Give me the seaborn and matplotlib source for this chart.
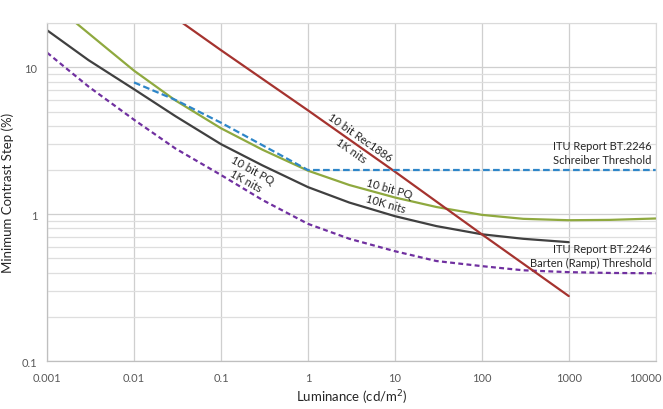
import numpy as np
import pandas as pd
import matplotlib
matplotlib.use("Agg")
import matplotlib.pyplot as plt
import matplotlib.transforms as mtrans
from matplotlib.ticker import LogLocator, FixedLocator, NullFormatter
import seaborn as sns

# values (luminance in cd/m2, contrast step in %)
lum_barten = [0.001, 0.003, 0.01, 0.03, 0.1, 0.3, 1, 3, 10, 30, 100, 300, 1000, 3000, 10000]
barten = [12.6, 7.4, 4.4, 2.8, 1.85, 1.25, 0.86, 0.68, 0.56, 0.48, 0.443, 0.415, 0.403, 0.398, 0.396]

lum_pq1k = [0.001, 0.003, 0.01, 0.03, 0.1, 0.3, 1, 3, 10, 30, 100, 300, 1000]
pq1k = [17.9, 11.2, 7.1, 4.65, 3.0, 2.15, 1.53, 1.2, 0.97, 0.83, 0.73, 0.68, 0.645]

lum_pq10k = [0.001, 0.002, 0.005, 0.01, 0.03, 0.1, 0.3, 1, 3, 10, 30, 100, 300, 1000, 3000, 10000]
pq10k = [29, 20.8, 13.3, 9.5, 5.95, 3.85, 2.75, 1.98, 1.58, 1.3, 1.12, 0.99, 0.93, 0.91, 0.915, 0.935]

lum_rec = [0.03, 0.1, 1, 10, 100, 1000]
rec1886 = [21.7, 13.1, 5.1, 1.95, 0.73, 0.277]

lum_schr = [0.01, 0.03, 0.1, 0.3, 1, 10000]
schreiber = [7.9, 6.0, 4.2, 2.95, 2.0, 2.0]

xticks = [0.001, 0.01, 0.1, 1, 10, 100, 1000, 10000]
xticklabels = ["0.001", "0.01", "0.1", "1", "10", "100", "1000", "10000"]
yticks = [0.1, 1, 10]
yticklabels = ["0.1", "1", "10"]

sns.set_style("white")
plt.rcParams['font.family'] = ['Lato', 'DejaVu Sans']

fig = plt.figure(figsize=(6.63, 4.10), dpi=100)
ax = fig.add_axes([0.071, 0.117, 0.918, 0.824])

lw = 1.6
sns.lineplot(x=lum_barten, y=barten, ax=ax, color="#7030A0", lw=lw, linestyle=(0, (2.2, 1.5)))
sns.lineplot(x=lum_pq1k, y=pq1k, ax=ax, color="#404040", lw=lw)
sns.lineplot(x=lum_pq10k, y=pq10k, ax=ax, color="#8FA93F", lw=lw)
sns.lineplot(x=lum_rec, y=rec1886, ax=ax, color="#A5332F", lw=lw)
sns.lineplot(x=lum_schr, y=schreiber, ax=ax, color="#2E86C8", lw=lw, linestyle=(0, (3, 1.5)))

ax.set_xscale("log")
ax.set_yscale("log")
ax.set_xlim(0.001, 10000)
ax.set_ylim(0.1, 20)

ax.xaxis.set_major_locator(FixedLocator(xticks))
ax.set_xticklabels(xticklabels)
ax.xaxis.set_minor_locator(FixedLocator([]))
ax.yaxis.set_major_locator(FixedLocator(yticks))
ax.set_yticklabels(yticklabels)
ax.yaxis.set_minor_locator(LogLocator(base=10, subs=np.arange(2, 10)))
ax.yaxis.set_minor_formatter(NullFormatter())

ax.grid(which="major", axis="both", color="#CFCFCF", lw=0.9)
ax.grid(which="minor", axis="y", color="#DEDEDE", lw=0.9)
ax.set_axisbelow(True)

for s in ["top", "right"]:
    ax.spines[s].set_color("#DADADA")
    ax.spines[s].set_linewidth(0.8)
for s in ["left", "bottom"]:
    ax.spines[s].set_color("#BFBFBF")
    ax.spines[s].set_linewidth(0.9)

ax.tick_params(axis="both", which="major", length=4, width=0.8, color="#BFBFBF",
               labelsize=8, labelcolor="#595959", direction="out", pad=3)
ax.tick_params(axis="y", which="minor", length=0)
ax.tick_params(axis="x", pad=4)

# last x label sits shifted left inside the figure, as in the reference
last = ax.get_xticklabels()[-1]
last.set_transform(last.get_transform() + mtrans.ScaledTranslation(-0.1, 0, fig.dpi_scale_trans))

ax.set_xlabel("Luminance (cd/m$^2$)", fontsize=9.5, color="#262626", va="center")
ax.xaxis.set_label_coords(0.5, -0.107)
ax.set_ylabel("Minimum Contrast Step (%)", fontsize=9.5, color="#262626", va="center")
ax.yaxis.set_label_coords(-0.064, 0.5)

txt = dict(fontsize=8, color="#262626", ha="center", va="center", linespacing=1.55)
ax.text(3.5, 3.02, "10 bit Rec1886\n1K nits", rotation=-35, **txt)
ax.text(0.21, 1.84, "10 bit PQ\n1K nits", rotation=-29, **dict(txt, linespacing=1.15))
ax.text(8.2, 1.33, "10 bit PQ\n10K nits", rotation=-16, **txt)

rt = dict(fontsize=8, color="#262626", ha="right", va="center", linespacing=1.3)
ax.text(9000, 2.62, "ITU Report BT.2246\nSchreiber Threshold", **rt)
ax.text(9000, 0.526, "ITU Report BT.2246\nBarten (Ramp) Threshold", **rt)

fig.savefig("out.png", dpi=100)
